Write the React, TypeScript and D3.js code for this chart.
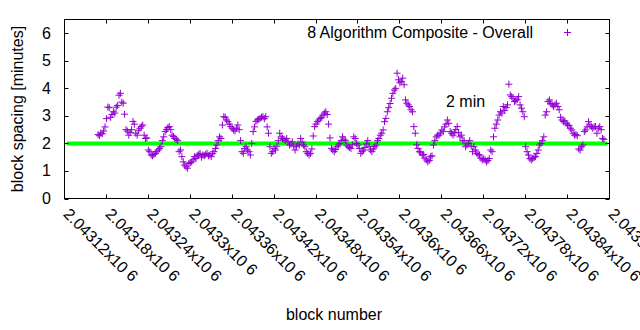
import React from "react";
import * as d3 from "d3";

// block numbers: consecutive blocks sampled every BLOCK_STEP blocks starting at BLOCK_START
const BLOCK_START = 2043168;
const BLOCK_STEP = 2;

// block spacing in minutes
const spacing: number[] = [
  2.32, 2.28, 2.38, 2.35, 2.45, 2.6, 2.9,
  3.32, 3.3, 2.95, 3.05, 3.15, 3.1, 3.32,
  3.38, 3.75, 3.82, 3.5, 3.46, 3.06, 2.5,
  2.45, 2.3, 2.4, 2.5, 2.8, 2.7, 2.37,
  2.3, 2.48, 2.55, 2.62, 2.67, 2.3, 2.18,
  2.2, 1.76, 1.7, 1.58, 1.55, 1.6, 1.64,
  1.7, 1.76, 1.82, 1.88, 2.1, 2.24, 2.43,
  2.5, 2.58, 2.61, 2.5, 2.3, 2.25, 2.18,
  2.15, 2.1, 1.7, 1.76, 1.52, 1.33, 1.21,
  1.15, 1.1, 1.27, 1.3, 1.33, 1.4, 1.52,
  1.45, 1.55, 1.6, 1.64, 1.5, 1.58, 1.55,
  1.6, 1.64, 1.55, 1.58, 1.52, 1.64, 1.7,
  1.82, 1.94, 2.1, 2.24, 2.18, 2.67, 2.97,
  2.95, 2.85, 2.79, 2.7, 2.61, 2.55, 2.49,
  2.45, 2.55, 2.67, 2.5, 2.1, 1.7, 1.64,
  1.82, 1.88, 1.76, 1.7, 1.58, 2.0, 2.43,
  2.6, 2.8, 2.85, 2.88, 2.91, 2.95, 2.97,
  2.9, 2.97, 2.6, 2.37, 1.88, 1.64, 1.7,
  1.82, 1.76, 1.9, 2.1, 2.37, 2.24, 2.18,
  2.15, 2.1, 2.18, 2.05, 1.94, 1.98, 2.06,
  1.9, 1.76, 1.9, 1.98, 1.94, 2.18, 2.05,
  1.94, 1.88, 1.7, 1.64, 1.58, 1.64, 1.8,
  2.27, 2.61, 2.7, 2.79, 2.85, 2.91, 2.95,
  3.03, 3.1, 3.15, 3.05, 2.7, 2.2, 1.82,
  1.76, 1.7, 1.78, 1.88, 1.94, 2.0, 2.1,
  2.24, 2.15, 2.1, 1.94, 1.88, 1.85, 1.82,
  1.95, 2.24, 2.18, 2.0, 1.94, 1.82, 1.64,
  1.7, 1.76, 1.85, 1.98, 2.1, 1.9, 1.76,
  1.7, 1.8, 1.88, 1.94, 2.1, 2.18, 2.3,
  2.37, 2.49, 2.79, 2.91, 3.15, 3.3, 3.45,
  3.64, 3.82, 3.94, 4.0, 4.55, 4.31, 4.2,
  4.25, 4.37, 4.13, 3.58, 3.46, 3.4, 3.34,
  3.22, 3.15, 2.61, 2.37, 1.95, 1.82, 1.7,
  1.66, 1.58, 1.6, 1.46, 1.4, 1.33, 1.38,
  1.52, 1.55, 1.94, 2.1, 2.24, 2.3, 2.3,
  2.37, 2.49, 2.43, 2.6, 2.7, 2.85, 2.73,
  2.43, 2.37, 2.3, 2.38, 2.5, 2.61, 2.4,
  2.24, 2.3, 2.1, 2.1, 1.88, 1.94, 2.0,
  2.1, 1.9, 1.7, 1.88, 1.76, 1.64, 1.6,
  1.58, 1.46, 1.4, 1.45, 1.4, 1.33, 1.38,
  1.45, 1.76, 1.7, 2.24, 2.55, 2.7, 2.85,
  3.03, 3.15, 3.1, 3.34, 3.2, 3.3, 3.4,
  4.15, 3.76, 3.7, 3.64, 3.52, 3.55, 3.6,
  3.7, 3.4, 3.28, 3.15, 2.97, 1.88, 1.7,
  1.58, 1.45, 1.4, 1.45, 1.5, 1.52, 1.64,
  1.76, 1.94, 2.0, 2.1, 2.24, 3.03, 3.15,
  3.52, 3.58, 3.45, 3.4, 3.34, 3.4, 3.46,
  3.34, 3.22, 2.95, 2.85, 2.79, 2.82, 2.73,
  2.67, 2.65, 2.55, 2.49, 2.37, 2.3, 2.32,
  2.28, 1.8, 1.76, 1.88, 1.94, 2.43, 2.49,
  2.6, 2.79, 2.67, 2.61, 2.55, 2.6, 2.61,
  2.37, 2.55, 2.61, 2.5, 2.18, 2.15,
];

const xTickValues: number[] = [
  2043120, 2043180, 2043240, 2043300, 2043360, 2043420, 2043480,
  2043540, 2043600, 2043660, 2043720, 2043780, 2043840, 2043900,
];
const xTickLabels: string[] = [
  "2.04312", "2.04318", "2.04324", "2.0433", "2.04336", "2.04342", "2.04348",
  "2.04354", "2.0436", "2.04366", "2.04372", "2.04378", "2.04384", "2.0439",
];
const yTickValues: number[] = [0, 1, 2, 3, 4, 5, 6];
const targetMinutes = 2;
const seriesName = "8 Algorithm Composite - Overall";
const targetLabel = "2 min";

const FONT = "'Liberation Sans', Arial, Helvetica, sans-serif";
const PURPLE = "#9400d3";

export default function App() {
  const W = 640, H = 330;
  const left = 64.5, right = 609.5, top = 19.5, bottom = 198.5;
  const x = d3.scaleLinear().domain([2043120, 2043900]).range([left, right]);
  const y = d3.scaleLinear().domain([0, 6.5]).range([bottom, top]);
  const pts = spacing.map((v, i) => ({ b: BLOCK_START + i * BLOCK_STEP, v }));
  const tick = 4;
  const ms = 3.5;
  const plus = (cx: number, cy: number) =>
    `M${cx - ms},${cy}H${cx + ms}M${cx},${cy - ms}V${cy + ms}`;

  return (
    <svg
      width={W}
      height={H}
      style={{ position: "absolute", left: 0, top: 0, background: "#fff" }}
      fontFamily={FONT}
    >
      <rect x={0} y={0} width={W} height={H} fill="#fff" />
      {/* green target line */}
      <line
        x1={left + 2}
        x2={right - 2}
        y1={y(targetMinutes)}
        y2={y(targetMinutes)}
        stroke="#00ff00"
        strokeWidth={4}
      />
      {/* points */}
      <path
        d={pts.map((p) => plus(x(p.b), y(p.v))).join("")}
        stroke={PURPLE}
        strokeWidth={1}
        fill="none"
      />
      {/* ticks */}
      {yTickValues.map((t) => (
        <g key={"y" + t}>
          <line x1={left} x2={left + tick} y1={Math.round(y(t)) + 0.5} y2={Math.round(y(t)) + 0.5} stroke="#000" />
          <line x1={right} x2={right - tick} y1={Math.round(y(t)) + 0.5} y2={Math.round(y(t)) + 0.5} stroke="#000" />
          <text x={51} y={y(t) + 5.5} fontSize={16} textAnchor="end" fill="#000">
            {t}
          </text>
        </g>
      ))}
      {xTickValues.map((t, i) => {
        const xx = Math.round(x(t) - 0.5) + 0.5;
        return (
          <g key={"x" + t}>
            <line x1={xx} x2={xx} y1={bottom} y2={bottom - tick} stroke="#000" />
            <line x1={xx} x2={xx} y1={top} y2={top + tick} stroke="#000" />
            <text
              transform={`translate(${x(t) - 2},215) rotate(45)`}
              fontSize={16}
              fill="#000"
            >
              {xTickLabels[i] + "x10"}
              <tspan dx={4} dy={-1}>6</tspan>
            </text>
          </g>
        );
      })}
      {/* border */}
      <rect
        x={left}
        y={top}
        width={right - left}
        height={bottom - top}
        fill="none"
        stroke="#000"
        strokeWidth={1}
      />
      {/* legend */}
      <text x={533} y={37.7} fontSize={16} textAnchor="end" fill="#000">
        {seriesName}
      </text>
      <path d={plus(567.5, 32.5)} stroke={PURPLE} strokeWidth={1} />
      {/* target label */}
      <text x={446} y={107} fontSize={16} fill="#000">
        {targetLabel}
      </text>
      {/* axis titles */}
      <text
        transform={`translate(23,${(top + bottom) / 2}) rotate(-90)`}
        fontSize={16}
        textAnchor="middle"
        fill="#000"
      >
        block spacing [minutes]
      </text>
      <text x={334} y={320} fontSize={16} textAnchor="middle" fill="#000">
        block number
      </text>
    </svg>
  );
}
